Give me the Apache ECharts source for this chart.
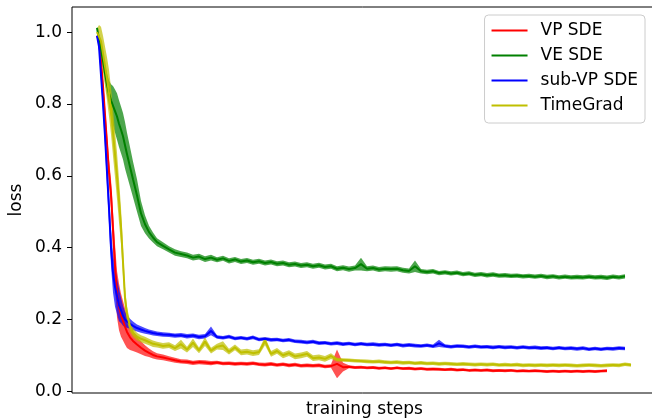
<!DOCTYPE html>
<html>
<head>
<meta charset="utf-8">
<script src="https://cdn.jsdelivr.net/npm/echarts@6/dist/echarts.min.js"></script>
<style>
html,body{margin:0;padding:0;background:#fff;}
#chart{width:652px;height:418px;}
</style>
</head>
<body>
<div id="chart"></div>
<script>
// training step positions (arbitrary units)
const steps = [0,2,4,6,8,10,12,14,16,18,20,22,24,26,28,30,33,36,40,44,48,52,56,
60,66,72,78,84,90,96,102,108,114,120,126,132,138,144,150,156,162,168,174,180,186,192,198,
204,210,216,222,228,234,240,246,252,258,264,270,276,282,288,294,300,306,312,318,324,330,
336,342,348,354,360,366,372,378,384,390,396,402,408,414,420,426,432,438,444,450,456,462,
468,474,480,486,492,498,504,510,516,522,528,534];

const yTicks = [0, 0.2, 0.4, 0.6, 0.8, 1.0];
const names = ['VP SDE', 'VE SDE', 'sub-VP SDE', 'TimeGrad'];

// VP SDE
const vpMean = [0.99,0.975,0.92,0.85,0.77,0.69,0.61,0.55,0.45,0.35,0.27,0.235,0.212,0.196,0.180,0.165,0.150,0.140,0.130,0.121,0.113,0.107,0.101,
0.097,0.094,0.090,0.086,0.083,0.082,0.079,0.081,0.080,0.078,
0.080,0.077,0.078,0.076,0.077,0.076,0.078,0.075,0.074,0.076,
0.073,0.075,0.072,0.074,0.071,0.072,0.071,0.072,0.069,0.070,
0.076,0.067,0.068,0.066,0.067,0.065,0.066,0.064,0.065,0.063,
0.065,0.063,0.064,0.062,0.063,0.061,0.062,0.061,0.060,0.061,
0.059,0.060,0.058,0.059,0.058,0.059,0.057,0.058,0.057,0.058,
0.056,0.057,0.056,0.057,0.056,0.055,0.056,0.055,0.056,0.055,
0.056,0.055,0.056,0.055,0.056,0.057];
const vpStd = [0.004,0.01,0.015,0.02,0.025,0.03,0.035,0.04,0.05,0.06,0.065,0.065,0.06,0.055,0.05,0.045,0.035,0.028,0.022,0.018,0.015,0.012,0.01,
0.009,0.008,0.007,0.007,0.006,0.006,0.006,0.006,0.006,0.006,
0.005,0.005,0.005,0.005,0.005,0.005,0.005,0.005,0.005,0.005,
0.005,0.005,0.005,0.005,0.005,0.005,0.005,0.005,0.005,0.005,
0.040,0.012,0.004,0.004,0.004,0.004,0.004,0.004,0.004,0.004,
0.004,0.004,0.004,0.004,0.004,0.004,0.004,0.004,0.004,0.004,
0.004,0.004,0.004,0.004,0.004,0.004,0.004,0.004,0.004,0.004,
0.004,0.004,0.004,0.004,0.004,0.004,0.004,0.004,0.004,0.004,
0.004,0.004,0.004,0.004,0.004,0.004];

// VE SDE
const veMean = [1.012,0.98,0.95,0.92,0.885,0.855,0.83,0.81,0.795,0.78,0.765,0.745,0.728,0.71,0.685,0.66,0.625,0.59,0.545,0.495,0.465,0.443,0.428,
0.415,0.405,0.395,0.386,0.382,0.378,0.372,0.375,0.368,0.372,
0.366,0.370,0.363,0.367,0.361,0.364,0.359,0.362,0.357,0.360,
0.355,0.357,0.352,0.354,0.350,0.352,0.348,0.351,0.346,0.348,
0.341,0.344,0.340,0.343,0.354,0.341,0.343,0.339,0.341,0.340,
0.341,0.337,0.335,0.348,0.334,0.332,0.334,0.329,0.331,0.328,
0.330,0.326,0.328,0.324,0.326,0.323,0.325,0.322,0.323,0.321,
0.322,0.320,0.321,0.319,0.321,0.318,0.320,0.317,0.319,0.317,
0.318,0.317,0.319,0.317,0.318,0.316,0.319,0.317,0.320];
const veStd = [0.004,0.01,0.015,0.02,0.025,0.03,0.035,0.045,0.055,0.06,0.065,0.065,0.065,0.065,0.065,0.06,0.055,0.05,0.045,0.035,0.025,0.018,0.014,
0.011,0.010,0.009,0.009,0.008,0.008,0.008,0.008,0.008,0.008,
0.007,0.007,0.007,0.007,0.007,0.007,0.007,0.007,0.007,0.007,
0.007,0.007,0.007,0.007,0.007,0.007,0.007,0.007,0.007,0.007,
0.007,0.007,0.007,0.007,0.018,0.007,0.007,0.007,0.007,0.007,
0.007,0.007,0.007,0.016,0.006,0.006,0.006,0.006,0.006,0.006,
0.006,0.006,0.006,0.006,0.006,0.006,0.006,0.006,0.006,0.006,
0.006,0.006,0.006,0.006,0.006,0.006,0.006,0.006,0.006,0.006,
0.006,0.006,0.006,0.006,0.006,0.006,0.006,0.006,0.006];

// sub-VP SDE
const subMean = [0.99,0.96,0.88,0.80,0.71,0.61,0.51,0.40,0.33,0.29,0.265,0.24,0.225,0.21,0.20,0.195,0.188,0.182,0.176,0.172,0.168,0.165,0.162,
0.160,0.158,0.157,0.155,0.156,0.153,0.155,0.151,0.153,0.168,
0.151,0.149,0.152,0.147,0.149,0.146,0.150,0.144,0.146,0.143,
0.144,0.141,0.143,0.139,0.138,0.136,0.138,0.134,0.135,0.132,
0.134,0.131,0.133,0.130,0.132,0.130,0.131,0.129,0.130,0.128,
0.130,0.127,0.129,0.127,0.126,0.128,0.125,0.133,0.126,0.124,
0.126,0.125,0.123,0.125,0.123,0.124,0.122,0.124,0.122,0.123,
0.121,0.123,0.121,0.122,0.120,0.121,0.119,0.121,0.119,0.120,
0.118,0.120,0.117,0.119,0.117,0.119,0.118,0.120,0.119];
const subStd = [0.004,0.01,0.015,0.02,0.03,0.04,0.045,0.05,0.055,0.055,0.05,0.045,0.035,0.028,0.022,0.018,0.014,0.012,0.01,0.009,0.008,0.007,0.007,
0.006,0.006,0.006,0.006,0.006,0.006,0.006,0.006,0.006,0.012,
0.005,0.005,0.005,0.005,0.005,0.005,0.005,0.005,0.005,0.005,
0.005,0.005,0.005,0.005,0.005,0.005,0.005,0.005,0.005,0.005,
0.005,0.005,0.005,0.005,0.005,0.005,0.005,0.005,0.005,0.005,
0.005,0.005,0.005,0.005,0.005,0.005,0.005,0.010,0.005,0.005,
0.005,0.005,0.005,0.005,0.005,0.005,0.005,0.005,0.005,0.005,
0.005,0.005,0.005,0.005,0.005,0.005,0.005,0.005,0.005,0.005,
0.005,0.005,0.005,0.005,0.005,0.005,0.005,0.005,0.005];

// TimeGrad
const tgMean = [1.0,0.995,0.975,0.94,0.905,0.87,0.83,0.78,0.72,0.66,0.60,0.53,0.46,0.36,0.26,0.215,0.18,0.163,0.152,0.146,0.142,0.137,0.132,
0.130,0.126,0.128,0.120,0.131,0.116,0.135,0.114,0.138,0.113,
0.124,0.127,0.110,0.122,0.108,0.110,0.106,0.109,0.140,0.104,
0.112,0.100,0.106,0.097,0.100,0.104,0.092,0.094,0.090,0.098,
0.088,0.087,0.086,0.085,0.084,0.083,0.082,0.083,0.081,0.080,
0.081,0.079,0.080,0.078,0.079,0.077,0.078,0.076,0.077,0.076,
0.075,0.076,0.075,0.074,0.075,0.074,0.075,0.073,0.074,0.073,
0.074,0.072,0.073,0.072,0.073,0.072,0.073,0.072,0.073,0.072,
0.071,0.072,0.073,0.072,0.071,0.072,0.073,0.072,0.075,0.073];
const tgStd = [0.01,0.025,0.04,0.05,0.055,0.06,0.065,0.065,0.065,0.065,0.065,0.06,0.05,0.04,0.03,0.02,0.015,0.012,0.011,0.01,0.01,0.009,0.009,
0.008,0.008,0.008,0.008,0.012,0.008,0.012,0.008,0.012,0.008,
0.008,0.012,0.008,0.008,0.008,0.008,0.008,0.008,0.012,0.008,
0.008,0.008,0.008,0.008,0.008,0.008,0.008,0.008,0.008,0.008,
0.005,0.005,0.005,0.005,0.005,0.005,0.005,0.005,0.005,0.005,
0.005,0.005,0.005,0.005,0.005,0.005,0.005,0.005,0.005,0.005,
0.005,0.005,0.005,0.005,0.005,0.005,0.005,0.005,0.005,0.005,
0.005,0.005,0.005,0.005,0.005,0.005,0.005,0.005,0.005,0.005,
0.005,0.005,0.005,0.005,0.005,0.005,0.005,0.005,0.005,0.005];

const colors = ['#ff0000', '#008000', '#0000ff', '#bfbf00'];
const bandColors = ['rgba(255,0,0,0.68)', 'rgba(0,128,0,0.7)', 'rgba(0,0,255,0.7)', 'rgba(191,191,0,0.7)'];
const means = [vpMean, veMean, subMean, tgMean];
const stds = [vpStd, veStd, subStd, tgStd];

const FONT = 'DejaVu Sans';
const series = [];
names.forEach((name, k) => {
  const m = means[k], s = stds[k];
  series.push({
    type: 'line', name: name, symbol: 'none',
    data: m.map((v, i) => [steps[i], v]),
    lineStyle: { width: 2, color: colors[k] },
    itemStyle: { color: colors[k] }, z: 2
  });
  series.push({
    type: 'custom', name: '_band' + k, silent: true, z: 2,
    data: [[steps[0], m[0]]],
    renderItem: function (params, api) {
      const pts = [];
      for (let i = 0; i < m.length; i++) pts.push(api.coord([steps[i], m[i] + s[i]]));
      for (let i = m.length - 1; i >= 0; i--) pts.push(api.coord([steps[i], m[i] - s[i]]));
      return { type: 'polygon', shape: { points: pts }, style: { fill: bandColors[k], stroke: null } };
    }
  });
});

const chart = echarts.init(document.getElementById('chart'), null, { renderer: 'canvas' });
chart.setOption({
  animation: false,
  backgroundColor: '#fff',
  grid: { left: 72, top: 7, width: 585, height: 386, outerBoundsMode: 'none', containLabel: false,
    show: true, borderColor: '#000', borderWidth: 1, backgroundColor: 'transparent' },
  xAxis: {
    type: 'value', min: -25, max: 560,
    axisLine: { show: false, onZero: false }, axisTick: { show: false }, axisLabel: { show: false }, splitLine: { show: false },
    name: 'training steps', nameLocation: 'middle', nameGap: 8,
    nameTextStyle: { fontFamily: FONT, fontSize: 17, color: '#000', verticalAlign: 'top' }
  },
  yAxis: {
    type: 'value', min: -0.005, max: 1.07,
    axisLine: { show: false, onZero: false },
    axisTick: { show: true, inside: false, length: 5, lineStyle: { color: '#000', width: 1 }, customValues: yTicks },
    axisLabel: { customValues: yTicks, formatter: v => v.toFixed(1), fontFamily: FONT, fontSize: 17, color: '#000', margin: 10, align: 'right' },
    splitLine: { show: false },
    name: 'loss', nameLocation: 'middle', nameGap: 47, nameMoveOverlap: false,
    nameTextStyle: { fontFamily: FONT, fontSize: 17, color: '#000' }
  },
  legend: {
    data: names, orient: 'vertical', right: 7, top: 15, align: 'left',
    icon: 'rect', itemWidth: 36, itemHeight: 2, itemGap: 8,
    padding: [7, 7, 9, 7],
    backgroundColor: 'rgba(255,255,255,0.8)', borderColor: '#cccccc', borderWidth: 1, borderRadius: 4,
    textStyle: { fontFamily: FONT, fontSize: 17, color: '#000', padding: [0, 0, 0, 8] },
    selectedMode: false
  },
  series: series
});
</script>
</body>
</html>
